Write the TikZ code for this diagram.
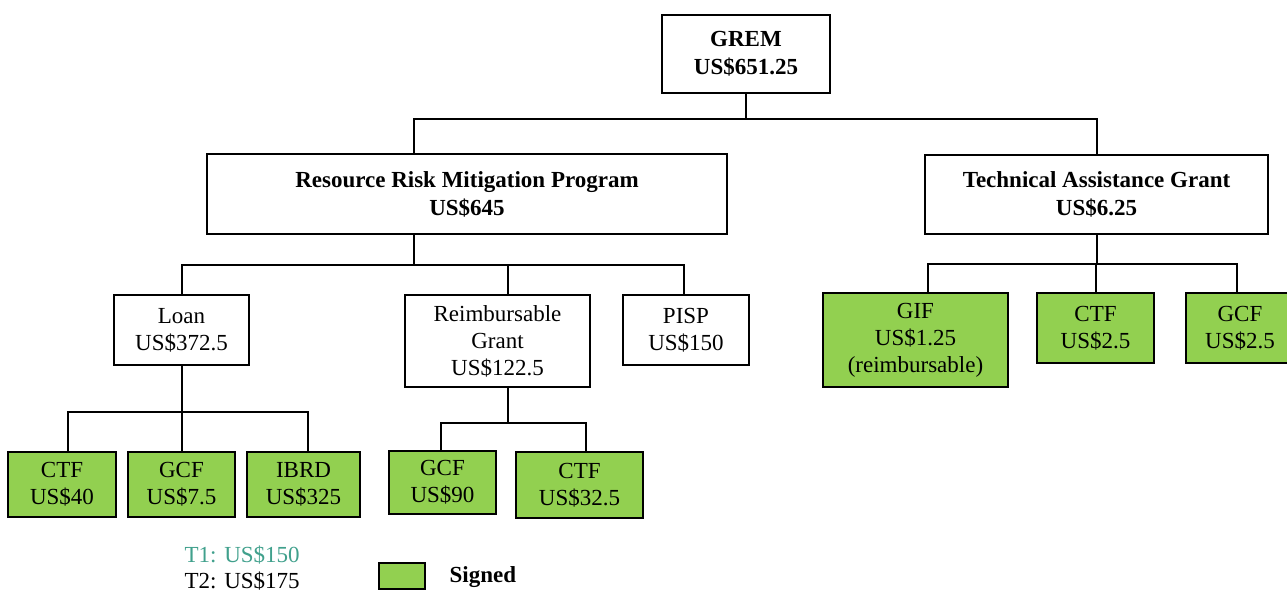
\documentclass[tikz,border=0pt]{standalone}
\usepackage{fontspec}
\setmainfont{Liberation Serif}
\usepackage{xcolor}
\usepackage{tikz}
\definecolor{signedgreen}{RGB}{146,208,80}
\definecolor{tealtext}{RGB}{64,160,140}

\begin{document}
\begin{tikzpicture}[x=0.5pt,y=-0.5pt,line width=1pt,
  box/.style={draw,align=center,inner sep=0pt,font=\fontsize{11.5}{13.5}\selectfont},
  signed/.style={box,fill=signedgreen},
  title/.style={box,font=\fontsize{11.5}{14}\selectfont\bfseries}]
\useasboundingbox (0,0) rectangle (1287,591);

% top of the tree
\node [title,minimum width=84pt,minimum height=39pt] (grem) at (746,54) {GREM\\US\$651.25};
\node [title,minimum width=260pt,minimum height=40pt] (rrmp) at (467,194) {Resource Risk Mitigation Program\\US\$645};
\node [title,minimum width=171.5pt,minimum height=39.5pt] (tag) at (1096.5,194) {Technical Assistance Grant\\US\$6.25};

% second level
\node [box,minimum width=67.5pt,minimum height=35pt] (loan) at (181.5,330) {Loan\\US\$372.5};
\node [box,minimum width=92.5pt,minimum height=46pt] (rg) at (497.5,341) {Reimbursable\\Grant\\US\$122.5};
\node [box,minimum width=63pt,minimum height=35pt] (pisp) at (686,330) {PISP\\US\$150};
\node [signed,minimum width=92.5pt,minimum height=47pt] (gif) at (915.5,340) {GIF\\US\$1.25\\(reimbursable)};
\node [signed,minimum width=58.5pt,minimum height=35pt] (ctfb) at (1095.5,328) {CTF\\US\$2.5};
\node [signed,minimum width=54pt,minimum height=35pt] (gcfb) at (1240,328) {GCF\\US\$2.5};

% third level
\node [signed,minimum width=54pt,minimum height=32.5pt] (ctfa) at (62,484.5) {CTF\\US\$40};
\node [signed,minimum width=53.5pt,minimum height=32.5pt] (gcfa) at (181.5,484.5) {GCF\\US\$7.5};
\node [signed,minimum width=56.5pt,minimum height=32.5pt] (ibrd) at (303.5,484.5) {IBRD\\US\$325};
\node [signed,minimum width=53.5pt,minimum height=31.5pt] (gcfc) at (442.5,482) {GCF\\US\$90};
\node [signed,minimum width=63.5pt,minimum height=33pt] (ctfc) at (579.5,485) {CTF\\US\$32.5};

% connectors
\draw (grem.south) -- ++(0,25) coordinate (j1);
\draw ([xshift=-26.5pt]rrmp.north) |- (j1) -| (tag.north);

\draw ([xshift=-26.5pt]rrmp.south) -- ++(0,30) coordinate (j2);
\draw (loan.north) |- (j2) -| ([xshift=-1pt]pisp.north);
\draw ([xshift=5pt]rg.north) -- ([xshift=5pt]rg.north |- j2);

\draw (tag.south) -- ++(0,29) coordinate (j3);
\draw ([xshift=6.25pt]gif.north) |- (j3) -| ([xshift=-1.5pt]gcfb.north);
\draw (ctfb.north) -- (ctfb.north |- j3);

\draw (loan.south) -- ++(0,46) coordinate (j4);
\draw (j4) -- (gcfa.north);
\draw ([xshift=3pt]ctfa.north) |- (j4) -| ([xshift=2.25pt]ibrd.north);

\draw ([xshift=5pt]rg.south) -- ++(0,35) coordinate (j5);
\draw ([xshift=-0.75pt]gcfc.north) |- (j5) -| ([xshift=3.25pt]ctfc.north);

% legend
\node [anchor=west,text=tealtext,font=\fontsize{11.5}{13.5}\selectfont] (t1) at (177,555) {T1: US\$150};
\node [anchor=west,font=\fontsize{11.5}{13.5}\selectfont] (t2) at (177,581) {T2: US\$175};
\node [draw,fill=signedgreen,minimum width=23pt,minimum height=13pt,inner sep=0pt] (key) at (402,576) {};
\node [anchor=west,font=\fontsize{11.5}{13.5}\selectfont\bfseries] (lbl) at (442,577) {Signed};
\end{tikzpicture}
\end{document}
